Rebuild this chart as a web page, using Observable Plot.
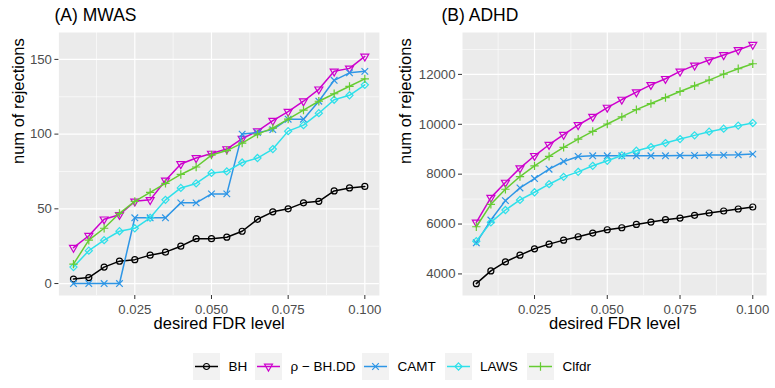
<!DOCTYPE html>
<html>
<head>
<meta charset="utf-8">
<script src="https://cdn.jsdelivr.net/npm/d3@7"></script>
<script src="https://cdn.jsdelivr.net/npm/@observablehq/plot@0.6"></script>
<style>
  body { margin: 0; background: #fff; }
  #wrap { position: relative; width: 775px; height: 388px; overflow: hidden; background: #fff; font-family: "Liberation Sans", Arial, sans-serif; }
  .panel { position: absolute; top: 0; }
  #legend { position: absolute; top: 353px; left: 0; width: 775px; height: 27px; }
  .item { position: absolute; top: 0; height: 27px; display: flex; align-items: center; }
  .item span { font-size: 13.5px; color: #000; margin-left: 8.5px; white-space: nowrap; }
</style>
</head>
<body>
<div id="wrap">
  <div id="pA" class="panel" style="left:0px"></div>
  <div id="pB" class="panel" style="left:388px"></div>
  <div id="legend"></div>
</div>
<script>
// ---- data ----
const fdrLevels = [0.005, 0.010, 0.015, 0.020, 0.025, 0.030, 0.035, 0.040, 0.045, 0.050,
                   0.055, 0.060, 0.065, 0.070, 0.075, 0.080, 0.085, 0.090, 0.095, 0.100];
const methods = ["BH", "ρ − BH.DD", "CAMT", "LAWS", "Clfdr"];

const mwasBH    = [3, 4, 11, 15, 16, 19, 21, 25, 30, 30, 31, 35, 43, 48, 50, 54, 55, 62, 64, 65];
const mwasRho   = [24, 32, 43, 46, 55, 56, 69, 80, 84, 87, 90, 97, 102, 109, 115, 122, 130, 142, 144, 152];
const mwasCAMT  = [0, 0, 0, 0, 44, 44, 44, 54, 54, 60, 60, 100, 101, 103, 110, 110, 122, 136, 141, 142];
const mwasLAWS  = [11, 22, 29, 35, 37, 44, 56, 64, 67, 74, 75, 81, 84, 90, 102, 106, 114, 123, 126, 133];
const mwasClfdr = [13, 29, 37, 47, 55, 61, 67, 73, 78, 86, 89, 94, 100, 104, 110, 116, 122, 127, 132, 137];

const adhdBH    = [3611, 4121, 4483, 4752, 5007, 5194, 5355, 5490, 5637, 5771, 5852, 5986, 6080, 6174, 6241, 6349, 6442, 6523, 6603, 6684];
const adhdRho   = [6067, 7060, 7664, 8241, 8737, 9180, 9583, 9972, 10307, 10670, 10992, 11287, 11582, 11824, 12119, 12361, 12576, 12777, 12978, 13193];
const adhdCAMT  = [5248, 6161, 6939, 7449, 7825, 8200, 8509, 8710, 8737, 8737, 8737, 8737, 8737, 8737, 8750, 8750, 8764, 8764, 8777, 8804];
const adhdLAWS  = [5315, 6067, 6563, 6966, 7274, 7597, 7892, 8093, 8335, 8536, 8751, 8939, 9086, 9247, 9408, 9556, 9704, 9824, 9945, 10052];
const adhdClfdr = [5892, 6791, 7395, 7905, 8335, 8710, 9073, 9408, 9717, 10012, 10294, 10589, 10831, 11072, 11314, 11542, 11770, 12012, 12226, 12428];

const xTicks = [0.025, 0.050, 0.075, 0.100];
const xMinor = [0.0125, 0.0375, 0.0625, 0.0875];
const yTicksA = [0, 50, 100, 150];
const yMinorA = [25, 75, 125];
const yTicksB = [4000, 6000, 8000, 10000, 12000];
const yMinorB = [5000, 7000, 9000, 11000, 13000];

// ---- styles ----
const style = {
  "BH":        {color: "#000000", symbol: "circle",    r: 3.0, rotate: 0},
  "ρ − BH.DD": {color: "#CD00CD", symbol: "triangle2", r: 3.8, rotate: 180},
  "CAMT":      {color: "#2E96E6", symbol: "times",     r: 3.1, rotate: 0},
  "LAWS":      {color: "#2EE0EA", symbol: "diamond2",  r: 3.2, rotate: 0},
  "Clfdr":     {color: "#66CC33", symbol: "plus",      r: 2.8, rotate: 0}
};

function longTable(series) {
  const rows = [];
  methods.forEach((m, k) => series[k].forEach((v, i) => rows.push({method: m, fdr: fdrLevels[i], n: v})));
  return rows;
}
const dataA = longTable([mwasBH, mwasRho, mwasCAMT, mwasLAWS, mwasClfdr]);
const dataB = longTable([adhdBH, adhdRho, adhdCAMT, adhdLAWS, adhdClfdr]);

function panel({data, width, marginLeft, marginRight, yDomain, yTicks, yMinor, title, titleDx, yTitleDx}) {
  const marks = [
    Plot.frame({fill: "#EBEBEB", stroke: null}),
    Plot.ruleX(xMinor, {stroke: "#fff", strokeWidth: 0.6}),
    Plot.ruleY(yMinor, {stroke: "#fff", strokeWidth: 0.6}),
    Plot.ruleX(xTicks, {stroke: "#fff", strokeWidth: 1.2}),
    Plot.ruleY(yTicks, {stroke: "#fff", strokeWidth: 1.2}),
    Plot.axisX({ticks: xTicks, tickFormat: d3.format(".3f"), tickSize: 4, tickPadding: 5, fontSize: 13.2,
                stroke: "#333333", fill: "#4D4D4D", label: null}),
    Plot.axisY({ticks: yTicks, tickFormat: d3.format("d"), tickSize: 4, tickPadding: 3, fontSize: 13.2,
                stroke: "#333333", fill: "#4D4D4D", label: null}),
    Plot.text(["desired FDR level"], {frameAnchor: "bottom", dy: 28, fontSize: 16.5, fill: "#000", lineAnchor: "middle"}),
    Plot.text(["num of rejections"], {frameAnchor: "left", dx: yTitleDx, rotate: -90, fontSize: 16.5, fill: "#000", lineAnchor: "middle"}),
    Plot.text([title], {frameAnchor: "top-left", dx: titleDx, dy: -17, textAnchor: "start", lineAnchor: "middle", fontSize: 17.5, fill: "#000"})
  ];
  for (const m of methods) {
    const s = style[m];
    const sub = data.filter(d => d.method === m);
    marks.push(Plot.line(sub, {x: "fdr", y: "n", stroke: s.color, strokeWidth: 1.5}));
    marks.push(Plot.dot(sub, {x: "fdr", y: "n", stroke: s.color, fill: "none", symbol: s.symbol, r: s.r, rotate: s.rotate, strokeWidth: 1.2}));
  }
  return Plot.plot({
    width, height: 340,
    marginLeft, marginRight, marginTop: 32, marginBottom: 45,
    x: {domain: [0.00025, 0.10475]},
    y: {domain: yDomain},
    style: {background: "transparent", fontFamily: "'Liberation Sans', Arial, sans-serif", overflow: "visible"},
    marks
  });
}

document.getElementById("pA").appendChild(panel({
  data: dataA, width: 388, marginLeft: 58.4, marginRight: 9.1, yDomain: [-8, 168],
  yTicks: yTicksA, yMinor: yMinorA, title: "(A) MWAS", titleDx: -4.4, yTitleDx: -40.5
}));
document.getElementById("pB").appendChild(panel({
  data: dataB, width: 387, marginLeft: 74, marginRight: 8.9, yDomain: [3135, 13680],
  yTicks: yTicksB, yMinor: yMinorB, title: "(B) ADHD", titleDx: -21, yTitleDx: -57
}));

// ---- legend ----
const legendX = [193, 255, 362, 444.5, 527];
const legend = document.getElementById("legend");
const symFn = {circle: d3.symbolCircle, triangle2: d3.symbolTriangle2, times: d3.symbolTimes, diamond2: d3.symbolDiamond2, plus: d3.symbolPlus};
methods.forEach((m, i) => {
  const s = style[m];
  const div = document.createElement("div");
  div.className = "item";
  div.style.left = legendX[i] + "px";
  const path = d3.symbol(symFn[s.symbol], Math.PI * s.r * s.r)();
  div.innerHTML = `<svg width="27" height="27" style="display:block">
     <rect width="27" height="27" fill="#F2F2F2"/>
     <line x1="2" x2="25" y1="13.5" y2="13.5" stroke="${s.color}" stroke-width="1.5"/>
     <path d="${path}" transform="translate(13.5,13.5) rotate(${s.rotate})" fill="none" stroke="${s.color}" stroke-width="1.2"/>
   </svg><span>${m}</span>`;
  legend.appendChild(div);
});
</script>
</body>
</html>
